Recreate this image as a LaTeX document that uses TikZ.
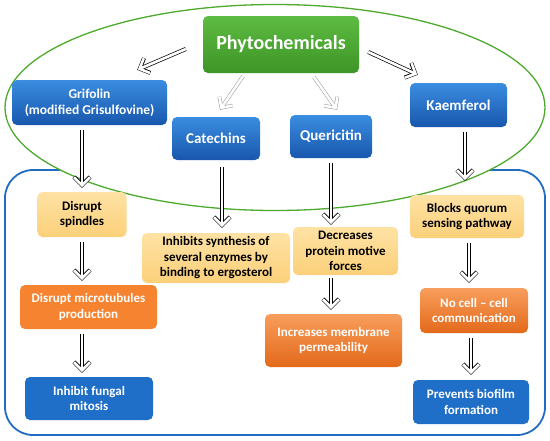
\documentclass[tikz,border=0pt]{standalone}
\usepackage{fontspec}
\setmainfont{Carlito}
\usepackage{tikz}
\usetikzlibrary{arrows.meta,calc}
\definecolor{hoja}{HTML}{4DAA2E}
\definecolor{hojaclara}{HTML}{5EBB42}
\definecolor{hojaosc}{HTML}{3D9526}
\definecolor{azul}{HTML}{3A8DE0}
\definecolor{azulosc}{HTML}{1857AD}
\definecolor{azulplano}{HTML}{1F6FC8}
\definecolor{marco}{HTML}{1F6CC2}
\definecolor{crema}{HTML}{FEE2A4}
\definecolor{cremaosc}{HTML}{FBD07A}
\definecolor{naranja}{HTML}{F89E5C}
\definecolor{naranjaosc}{HTML}{E3691A}
\definecolor{naranjaplano}{HTML}{F5832F}
\definecolor{gris}{HTML}{6A6A6A}

\begin{document}
\begin{tikzpicture}[x=1pt, y=-1pt,
  caja/.style={rounded corners=5pt, align=center, inner sep=1pt, font=\bfseries\fontsize{13}{15.5}\selectfont},
  verde/.style={caja, top color=hojaclara, bottom color=hojaosc, text=white},
  azulg/.style={caja, top color=azul, bottom color=azulosc, text=white},
  azulp/.style={caja, fill=azulplano, text=white},
  amarilla/.style={caja, top color=crema, bottom color=cremaosc, text=black},
  naranjag/.style={caja, top color=naranja, bottom color=naranjaosc, text=white},
  naranjap/.style={caja, fill=naranjaplano, text=white},
  flecha/.style={draw=black, line width=4pt, -{Straight Barb[length=8pt, width=16pt]},
    postaction={draw=white, line width=2.6pt, -{Straight Barb[length=8pt, width=16pt, sep=0.7pt]}}},
  flechaclara/.style={flecha, draw=gris!70, line width=3.6pt}
]
\useasboundingbox (0,0) rectangle (550,440);

% marco y elipse
\draw[marco, line width=1.8pt, rounded corners=28pt] (5,170) rectangle (545,435);
\draw[hoja, fill=white, line width=1.3pt] (275,107.5) ellipse [x radius=270, y radius=103];

% compuestos
\node[verde, minimum width=156pt, minimum height=57pt, font=\bfseries\fontsize{20}{24}\selectfont] (fito) at (281,44.5) {Phytochemicals};
\node[azulg, minimum width=155pt, minimum height=45pt, font=\bfseries\fontsize{13.5}{16}\selectfont] (grif) at (89.5,102.5) {Grifolin\\(modified Grisulfovine)};
\node[azulg, minimum width=88pt, minimum height=43pt, font=\bfseries\fontsize{15}{18}\selectfont] (cat) at (216,138.5) {Catechins};
\node[azulg, minimum width=82pt, minimum height=43pt, font=\bfseries\fontsize{15}{18}\selectfont] (quer) at (331,136.5) {Quericitin};
\node[azulg, minimum width=97pt, minimum height=44pt, font=\bfseries\fontsize{15}{18}\selectfont] (kaem) at (458.5,105) {Kaemferol};

% efectos
\node[amarilla, minimum width=89pt, minimum height=45pt] (husos) at (82,214.5) {Disrupt\\spindles};
\node[amarilla, minimum width=148pt, minimum height=50pt] (sintesis) at (216,258) {Inhibits synthesis of\\several enzymes by\\binding to ergosterol};
\node[amarilla, minimum width=105pt, minimum height=48pt] (fuerza) at (345.5,251) {Decreases\\protein motive\\forces};
\node[amarilla, minimum width=114pt, minimum height=43pt] (quorum) at (467,216.5) {Blocks quorum\\sensing pathway};
\node[naranjap, minimum width=137pt, minimum height=44pt] (micro) at (88.5,307) {Disrupt microtubules\\production};
\node[naranjag, minimum width=137pt, minimum height=53pt] (membrana) at (333.5,340.5) {Increases membrane\\permeability};
\node[naranjag, minimum width=108pt, minimum height=45pt] (celula) at (474,310.5) {No cell -- cell\\communication};
\node[azulp, minimum width=128pt, minimum height=43pt] (mitosis) at (89,398.5) {Inhibit fungal\\mitosis};
\node[azulp, minimum width=116pt, minimum height=44pt] (biofilm) at (471,402) {Prevents biofilm\\formation};

% flechas
\draw[flecha] ($(fito.west)+(-17,4.5)$) -- ($(grif.north east)+(-30,-10)$);
\draw[flechaclara] ($(fito.south)+(-38,3)$) -- ($(cat.north)+(4,-7)$);
\draw[flechaclara] ($(fito.south)+(33,4)$) -- ($(quer.north)+(6,-5)$);
\draw[flecha] ($(fito.east)+(9,7.5)$) -- ($(kaem.north west)+(8,-8)$);
\draw[flecha, shorten <=5pt, shorten >=4pt] (husos.north |- grif.south) -- (husos.north);
\draw[flecha, shorten <=7pt, shorten >=5pt] ([xshift=6pt]cat.south) -- ([xshift=6pt]sintesis.north);
\draw[flecha, shorten <=5pt, shorten >=2pt] (quer.south) -- (quer.south |- fuerza.north);
\draw[flecha, shorten <=5pt, shorten >=14pt] ([xshift=6.5pt]kaem.south) -- ([xshift=6.5pt]kaem.south |- quorum.north);
\draw[flecha, shorten <=5pt, shorten >=4pt] (husos.south) -- (husos.south |- micro.north);
\draw[flecha, shorten <=5pt, shorten >=4pt] (husos.south |- micro.south) -- (husos.south |- mitosis.north);
\draw[flecha, shorten <=3pt, shorten >=4pt] (quer.south |- fuerza.south) -- (quer.south |- membrana.north);
\draw[flecha, shorten <=5pt, shorten >=5pt] ([xshift=2pt]quorum.south) -- ([xshift=2pt]quorum.south |- celula.north);
\draw[flecha, shorten <=5pt, shorten >=5pt] ([xshift=-3pt]celula.south) -- ([xshift=-3pt]celula.south |- biofilm.north);
\end{tikzpicture}
\end{document}
